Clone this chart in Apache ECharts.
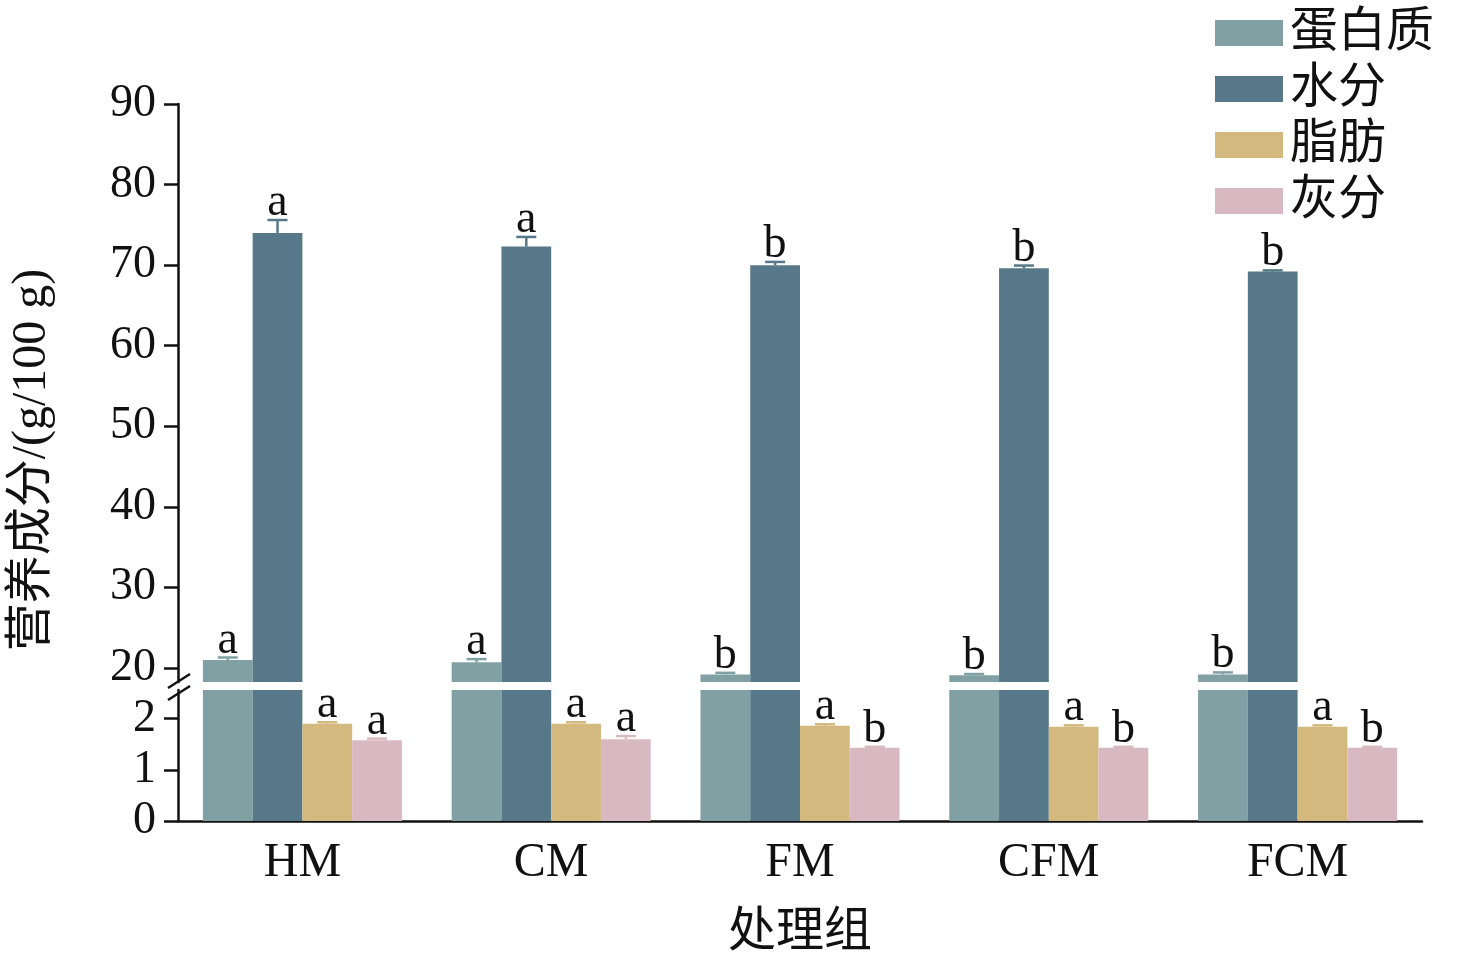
<!DOCTYPE html>
<html><head><meta charset="utf-8">
<script src="https://cdn.jsdelivr.net/npm/echarts@6/dist/echarts.min.js"></script>
<style>html,body{margin:0;background:#fff}#c{width:1466px;height:962px}</style>
</head><body><div id="c"></div>
<script>
const categories = ['HM', 'CM', 'FM', 'CFM', 'FCM'];
const names = ['蛋白质', '水分', '脂肪', '灰分'];
const protein = [21.0, 20.7, 19.2, 19.1, 19.2];
const water = [74.0, 72.3, 70.0, 69.6, 69.2];
const fat = [1.90, 1.90, 1.86, 1.84, 1.84];
const ash = [1.58, 1.60, 1.43, 1.43, 1.43];
const proteinErr = [0.3, 0.4, 0.2, 0.15, 0.25];
const waterErr = [1.6, 1.2, 0.4, 0.35, 0.15];
const fatErr = [0.03, 0.03, 0.03, 0.03, 0.03];
const ashErr = [0.03, 0.06, 0.02, 0.02, 0.02];
const proteinSig = ['a', 'a', 'b', 'b', 'b'];
const waterSig = ['a', 'a', 'b', 'b', 'b'];
const fatSig = ['a', 'a', 'a', 'a', 'a'];
const ashSig = ['a', 'a', 'b', 'b', 'b'];
const yTopTicks = [20, 30, 40, 50, 60, 70, 80, 90];
const yBottomTicks = [0, 1, 2];

const colors = ['#80a0a4', '#577888', '#d4b97e', '#d9b9c1'];
const font = '"Liberation Serif", "Noto Sans CJK SC", serif';
const topMin = 18.26, topMax = 90, botMax = 2.56;

const chart = echarts.init(document.getElementById('c'));

function errSeries(values, errs, sig, idx, grid) {
  return {
    type: 'custom', xAxisIndex: grid, yAxisIndex: grid, z: 5,
    data: values.map((v, i) => [i, v, errs[i], sig[i]]),
    renderItem: (params, api) => {
      const bw = api.size([1, 0])[0] * 0.8 / 4;
      const c = api.coord([api.value(0), api.value(1)]);
      const x = c[0] + (idx - 1.5) * bw;
      const top = api.coord([0, api.value(1) + api.value(2)])[1];
      const base = c[1];
      const style = { stroke: colors[idx], lineWidth: 2.5 };
      return { type: 'group', children: [
        { type: 'line', shape: { x1: x, y1: base, x2: x, y2: top }, style },
        { type: 'line', shape: { x1: x - 10, y1: top, x2: x + 10, y2: top }, style },
        { type: 'text', x: x, y: top + 6, style: { text: api.value(3), font: '46px ' + font, fill: '#111', align: 'center', verticalAlign: 'bottom' } }
      ] };
    }
  };
}

const gridTop = 104, gridTopBottom = 962 - 682, gridBotTop = 690, gridBot = 962 - 821;
const yLab = { fontSize: 46, fontFamily: font, color: '#111', margin: 22 };

chart.setOption({
  animation: false,
  legend: {
    data: names, orient: 'vertical', left: 1210, top: 4, itemWidth: 68, itemHeight: 26, itemGap: 8,
    icon: 'rect',
    textStyle: { fontSize: 48, fontFamily: font, color: '#111', padding: [0, 0, 0, 2] }
  },
  grid: [
    { left: 178, right: 44, top: gridTop, bottom: gridTopBottom },
    { left: 178, right: 44, top: gridBotTop, bottom: gridBot }
  ],
  xAxis: [
    { gridIndex: 0, type: 'category', data: categories, show: false },
    { gridIndex: 1, type: 'category', data: categories,
      axisLine: { lineStyle: { color: '#111', width: 2.5 } }, axisTick: { show: false },
      axisLabel: { fontSize: 48, fontFamily: font, color: '#111', margin: 18 },
      name: '处理组', nameLocation: 'middle', nameGap: 88,
      nameTextStyle: { fontSize: 48, fontFamily: font, color: '#111' } }
  ],
  yAxis: [
    { gridIndex: 0, type: 'value', min: topMin, max: topMax, splitLine: { show: false },
      axisLine: { show: true, lineStyle: { color: '#111', width: 2.5 } },
      axisTick: { show: true, length: 14, customValues: yTopTicks, lineStyle: { width: 2.5 } },
      axisLabel: Object.assign({ customValues: yTopTicks }, yLab) },
    { gridIndex: 1, type: 'value', min: 0, max: botMax, splitLine: { show: false },
      axisLine: { show: true, lineStyle: { color: '#111', width: 2.5 } },
      axisTick: { show: true, length: 14, customValues: yBottomTicks, lineStyle: { width: 2.5 } },
      axisLabel: Object.assign({ customValues: yBottomTicks }, yLab) }
  ],
  graphic: [
    { type: 'text', x: 32, y: 460, rotation: Math.PI / 2, style: { text: '营养成分/(g/100 g)', font: '48px ' + font, fill: '#111', align: 'center', verticalAlign: 'middle' } },
    { type: 'line', shape: { x1: 168, y1: 688, x2: 190, y2: 674 }, style: { stroke: '#111', lineWidth: 2.5 } },
    { type: 'line', shape: { x1: 168, y1: 700, x2: 190, y2: 686 }, style: { stroke: '#111', lineWidth: 2.5 } }
  ],
  series: [
    { name: names[0], type: 'bar', xAxisIndex: 0, yAxisIndex: 0, data: protein, itemStyle: { color: colors[0] }, barGap: '0%', barCategoryGap: '20%' },
    { name: names[1], type: 'bar', xAxisIndex: 0, yAxisIndex: 0, data: water, itemStyle: { color: colors[1] } },
    { name: names[2], type: 'bar', xAxisIndex: 0, yAxisIndex: 0, data: fat.map(() => null), itemStyle: { color: colors[2] } },
    { name: names[3], type: 'bar', xAxisIndex: 0, yAxisIndex: 0, data: ash.map(() => null), itemStyle: { color: colors[3] } },
    { name: names[0], type: 'bar', xAxisIndex: 1, yAxisIndex: 1, data: protein.map(() => botMax), itemStyle: { color: colors[0] }, barGap: '0%', barCategoryGap: '20%' },
    { name: names[1], type: 'bar', xAxisIndex: 1, yAxisIndex: 1, data: water.map(() => botMax), itemStyle: { color: colors[1] } },
    { name: names[2], type: 'bar', xAxisIndex: 1, yAxisIndex: 1, data: fat, itemStyle: { color: colors[2] } },
    { name: names[3], type: 'bar', xAxisIndex: 1, yAxisIndex: 1, data: ash, itemStyle: { color: colors[3] } },
    errSeries(protein, proteinErr, proteinSig, 0, 0),
    errSeries(water, waterErr, waterSig, 1, 0),
    errSeries(fat, fatErr, fatSig, 2, 1),
    errSeries(ash, ashErr, ashSig, 3, 1)
  ]
});
</script></body></html>
